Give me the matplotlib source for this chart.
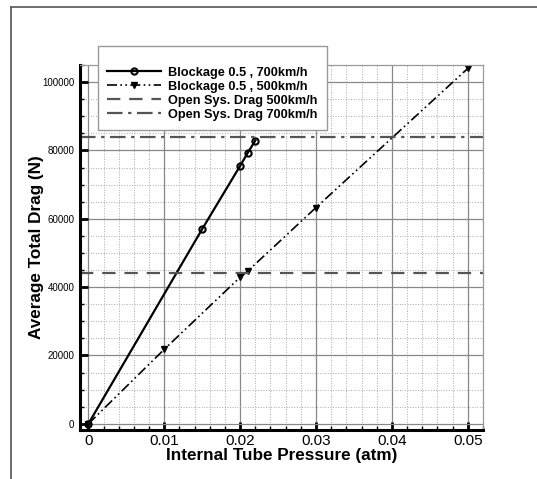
import matplotlib
matplotlib.use("Agg")
import matplotlib.pyplot as plt
from matplotlib.lines import Line2D
from matplotlib.ticker import MultipleLocator

plt.rcParams["font.family"] = ["Liberation Sans", "DejaVu Sans"]

# data
p_700 = [0.0, 0.015, 0.020, 0.021, 0.022]
drag_700 = [0, 57000, 75500, 79300, 82900]

p_500 = [0.0, 0.010, 0.020, 0.021, 0.030, 0.050]
drag_500 = [0, 21800, 42900, 44700, 63300, 104000]

open_500 = 44000
open_700 = 83800

fig = plt.figure(figsize=(5.37, 4.79), dpi=100)
ax = fig.add_axes([80 / 537, 49 / 479, 403 / 537, 365 / 479])

# outer frame lines (top and left)
fig.add_artist(Line2D([11 / 537, 1.0], [1 - 7 / 479, 1 - 7 / 479], color="#555555", lw=1.2))
fig.add_artist(Line2D([11 / 537, 11 / 537], [0.0, 1 - 7 / 479], color="#555555", lw=1.2))

ax.plot(p_700, drag_700, "-", color="black", lw=1.6, marker="o", ms=4.5,
        mfc="none", mec="black", mew=1.5, label="Blockage 0.5 , 700km/h")
ax.plot(p_500, drag_500, color="black", lw=1.2, ls=(0, (6, 2, 1, 2, 1, 2)),
        marker="v", ms=4, mfc="black", mec="black", label="Blockage 0.5 , 500km/h")
ax.axhline(open_500, color="#555555", lw=1.6, ls=(0, (6, 4)), label="Open Sys. Drag 500km/h")
ax.axhline(open_700, color="#555555", lw=1.6, ls=(0, (7, 2.5, 1.5, 2.5)), label="Open Sys. Drag 700km/h")

ax.set_xlim(-0.0011, 0.052)
ax.set_ylim(-1800, 105000)

ax.xaxis.set_major_locator(MultipleLocator(0.01))
ax.xaxis.set_minor_locator(MultipleLocator(0.002))
ax.yaxis.set_major_locator(MultipleLocator(20000))
ax.yaxis.set_minor_locator(MultipleLocator(5000))
ax.set_xticks([0, 0.01, 0.02, 0.03, 0.04, 0.05])
ax.set_xticklabels(["0", "0.01", "0.02", "0.03", "0.04", "0.05"])

ax.grid(which="major", color="#888888", lw=0.9, ls="-")
ax.grid(which="minor", color="#aaaaaa", lw=0.7, ls=":")
ax.set_axisbelow(True)

ax.tick_params(axis="x", which="major", direction="in", length=6, width=2, labelsize=11, pad=3)
ax.tick_params(axis="y", which="major", direction="in", length=6, width=2, labelsize=7, pad=4)
ax.tick_params(which="minor", direction="in", length=3, width=1)

for side in ["left", "bottom"]:
    ax.spines[side].set_linewidth(2.2)
    ax.spines[side].set_color("black")
for side in ["top", "right"]:
    ax.spines[side].set_linewidth(0.9)
    ax.spines[side].set_color("#999999")

ax.set_xlabel("Internal Tube Pressure (atm)", fontsize=12.3, fontweight="bold", labelpad=0)
ax.set_ylabel("Average Total Drag (N)", fontsize=12.3, fontweight="bold", labelpad=-1)

leg = ax.legend(loc="upper left", bbox_to_anchor=(18 / 403, 1 + 19 / 365),
                prop={"weight": "bold", "size": 9.2}, frameon=True, fancybox=False,
                framealpha=1, edgecolor="#999999", handlelength=4.2, handletextpad=0.6,
                borderpad=0.7, labelspacing=0.15, borderaxespad=0,
                title=" ", title_fontsize=7)
leg.get_frame().set_linewidth(1.0)
leg.set_zorder(10)

fig.savefig("out.png", dpi=100)
